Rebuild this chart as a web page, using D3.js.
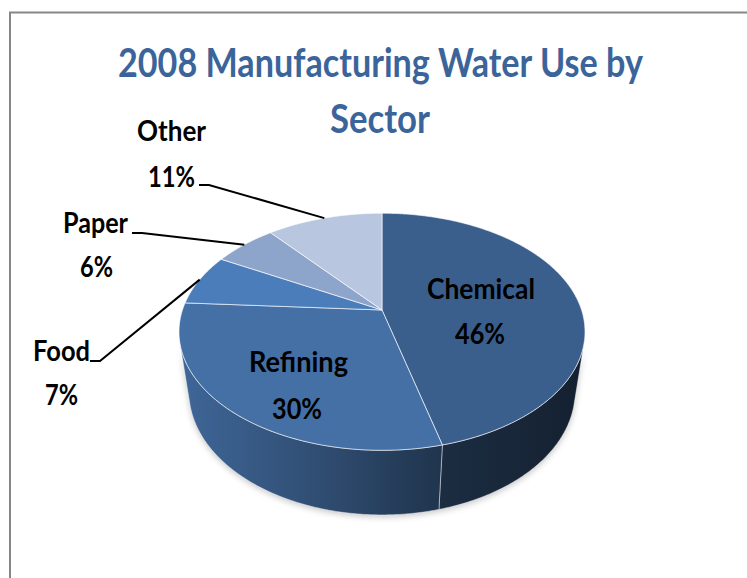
<!DOCTYPE html>
<html>
<head>
<meta charset="utf-8">
<script src="https://cdn.jsdelivr.net/npm/d3@7/dist/d3.min.js"></script>
<style>
  html, body { margin: 0; padding: 0; background: #fff; }
  svg { display: block; }
  text { font-family: Lato, "Open Sans", "Liberation Sans", sans-serif; font-weight: bold; }
</style>
</head>
<body>
<svg id="chart" width="747" height="578"></svg>
<script>
// Data
const sectors = ["Chemical", "Refining", "Food", "Paper", "Other"];
const shares = [46, 30, 7, 6, 11];
const sliceColors = ["#3B5F8D", "#4570A6", "#4B7DBA", "#8EA5CB", "#B9C6E0"];
const titleLines = ["2008 Manufacturing Water Use by", "Sector"];

// Label layout: [x, baseline, width] for name and for percent lines
const labelLayout = {
  Chemical: { name: [427, 299, 108], pct: [455, 344, 50] },
  Refining: { name: [249, 372, 99], pct: [272, 419, 50] },
  Food:     { name: [33, 361, 57],  pct: [45, 405, 33], leader: [90, 361] },
  Paper:    { name: [63, 233, 65],  pct: [80, 277, 33], leader: [132, 233] },
  Other:    { name: [137, 141, 69], pct: [148, 187, 47], leader: [199, 185] }
};

const svg = d3.select("#chart");
const W = 747, H = 578;

// Frame: top and left edges of the chart area
svg.append("path")
  .attr("d", "M10,578 L10,12.5 L747,12.5")
  .attr("fill", "none")
  .attr("stroke", "#878787")
  .attr("stroke-width", 2);

// Title
svg.append("g").selectAll("text")
  .data(titleLines)
  .join("text")
  .attr("x", (d, i) => i === 0 ? 118 : 330)
  .attr("y", (d, i) => i === 0 ? 77 : 133)
  .attr("textLength", (d, i) => i === 0 ? 525 : 100)
  .attr("lengthAdjust", "spacingAndGlyphs")
  .attr("font-size", 40.5)
  .attr("fill", "#3B659A")
  .text(d => d);

// Perspective camera for the tilted disc
const cam = { cx: 382, cy: 310, f: 890, D: 4.46, tilt: Math.asin(0.574), depth: 0.385 };
const sT = Math.sin(cam.tilt), cT = Math.cos(cam.tilt);
function proj(theta, r, h) {
  const u = r * Math.sin(theta), v = r * Math.cos(theta);
  const yc = v * sT + h * cT;
  const zc = cam.D + v * cT - h * sT;
  return [cam.cx + cam.f * u / zc, cam.cy - cam.f * yc / zc];
}
// Range of angles where the cylinder wall faces the viewer
const wallLimit = Math.acos(-1 / (cam.D * cT));
const wallA0 = wallLimit, wallA1 = 2 * Math.PI - wallLimit;

const pie = d3.pie().sort(null).value(d => d.value);
const arcs = pie(sectors.map((s, i) => ({ name: s, value: shares[i], color: sliceColors[i] })));

const line = d3.line();
const step = Math.PI / 360;
function arcPoints(a0, a1, r, h) {
  const pts = [];
  const n = Math.max(2, Math.ceil((a1 - a0) / step));
  for (let k = 0; k <= n; k++) pts.push(proj(a0 + (a1 - a0) * k / n, r, h));
  return pts;
}
function topPath(a) {
  return line([proj(0, 0, 0), ...arcPoints(a.startAngle, a.endAngle, 1, 0)]) + "Z";
}
function wallPath(a0, a1) {
  const top = arcPoints(a0, a1, 1, 0);
  const bot = arcPoints(a0, a1, 1, -cam.depth).reverse();
  return line([...top, ...bot]) + "Z";
}

// Wall shading gradients (horizontal, across the pie width)
const defs = svg.append("defs");
const xL = cam.cx - 205, xR = cam.cx + 205;
const shade = [[0, 0.92], [0.3, 0.72], [0.64, 0.47], [1, 0.34]];
arcs.forEach((a, i) => {
  const g = defs.append("linearGradient")
    .attr("id", "wall" + i)
    .attr("gradientUnits", "userSpaceOnUse")
    .attr("x1", xL).attr("x2", xR).attr("y1", 0).attr("y2", 0);
  const base = d3.rgb(a.data.color);
  shade.forEach(([o, k]) => {
    g.append("stop").attr("offset", o)
      .attr("stop-color", d3.rgb(base.r * k, base.g * k, base.b * k).formatHex());
  });
});
defs.append("filter").attr("id", "soft")
  .attr("x", "-10%").attr("y", "-10%").attr("width", "120%").attr("height", "130%")
  .append("feGaussianBlur").attr("stdDeviation", 3);

const walls = arcs
  .map((a, i) => ({ a, i, a0: Math.max(a.startAngle, wallA0), a1: Math.min(a.endAngle, wallA1) }))
  .filter(w => w.a1 > w.a0);

// Soft shadow under the disc
const shadow = svg.append("g").attr("filter", "url(#soft)").attr("opacity", 0.45)
  .attr("transform", "translate(0,2)");
shadow.append("path").attr("d", wallPath(wallA0, wallA1)).attr("fill", "#7f7f7f");

// Walls
svg.append("g").selectAll("path")
  .data(walls)
  .join("path")
  .attr("d", w => wallPath(w.a0, w.a1))
  .attr("fill", w => `url(#wall${w.i})`)
  .attr("stroke", "rgba(255,255,255,0.55)")
  .attr("stroke-width", 0.8)
  .attr("stroke-linejoin", "round");

// Top faces
svg.append("g").selectAll("path")
  .data(arcs)
  .join("path")
  .attr("d", topPath)
  .attr("fill", a => a.data.color)
  .attr("stroke", "rgba(255,255,255,0.7)")
  .attr("stroke-width", 0.9)
  .attr("stroke-linejoin", "round");

// Leader lines for the outside labels
const leaders = arcs.filter(a => labelLayout[a.data.name].leader);
svg.append("g").selectAll("polyline")
  .data(leaders)
  .join("polyline")
  .attr("points", a => {
    const [lx, ly] = labelLayout[a.data.name].leader;
    const mid = (a.startAngle + a.endAngle) / 2;
    const end = proj(mid, 1.0, 0);
    return [[lx, ly], [lx + 10, ly], end].map(p => p.join(",")).join(" ");
  })
  .attr("fill", "none")
  .attr("stroke", "#000")
  .attr("stroke-width", 2);

// Labels: category name and percentage
const labels = svg.append("g");
arcs.forEach(a => {
  const L = labelLayout[a.data.name];
  const total = d3.sum(shares);
  [[a.data.name, L.name], [Math.round(a.data.value / total * 100) + "%", L.pct]].forEach(([t, p]) => {
    labels.append("text")
      .attr("x", p[0]).attr("y", p[1])
      .attr("textLength", p[2])
      .attr("lengthAdjust", "spacingAndGlyphs")
      .attr("font-size", 29)
      .attr("fill", "#000")
      .text(t);
  });
});
</script>
</body>
</html>
